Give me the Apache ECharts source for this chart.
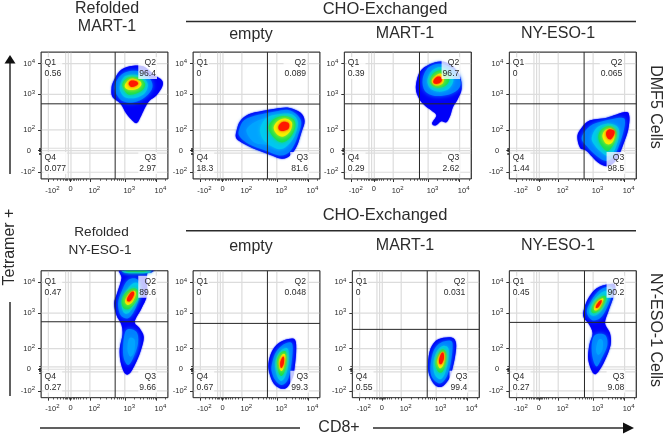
<!DOCTYPE html>
<html>
<head>
<meta charset="utf-8">
<style>
  html, body { margin: 0; padding: 0; background: #fff; }
  #chart { width: 666px; height: 437px; }
</style>
<script src="https://cdn.jsdelivr.net/npm/echarts@6/dist/echarts.min.js"></script>
</head>
<body>
<div id="chart"></div>
<script>
const xTickPos = [5.8, 23.3, 38.5, 66, 90.8];
const yTickPos = [5.3, 22.4, 38.7, 66.6, 90.8];
const xLabelPos = [9, 23.3, 42, 69.5, 94];
const xTickText = ["-10{s|2}", "0", "10{s|2}", "10{s|3}", "10{s|4}"];
const yTickText = ["-10{s|2}", "0\u00a0\u00a0", "10{s|2}", "10{s|3}", "10{s|4}"];
const xMinorPos = [10, 13, 15.5, 17.5, 19, 20, 21, 22, 23, 24, 25, 26, 27.5, 29, 31, 33.5, 36, 46.8, 51.6, 55, 57.6, 59.8, 61.6, 63.2, 64.6, 73.5, 77.8, 80.9, 83.3, 85.3, 87, 88.4, 89.7, 98];
const yMinorPos = [19.5, 20.5, 21.5, 22.5, 23.5, 24.5];
const xGridPos = [5.8, 19.4, 21.5, 23.6, 38.5, 66, 90.8];
const yGridPos = [5.3, 20.3, 22.4, 24.2, 38.7, 66.6, 90.8];

const panelLeft = [41, 193, 344.3, 509.3, 41, 193, 352.3, 509.3];
const panelTop = [52, 52, 52, 52, 270.7, 270.7, 270.7, 270.7];
const gateX = [58.4, 58.6, 59.2, 58.9, 58.4, 58.6, 59, 59.2];
const gateY = [59.2, 59, 59.2, 59.2, 59.8, 58.5, 53.8, 59.3];

const panelQ = [
  ["0.56", "96.4", "2.97", "0.077"],
  ["0", "0.089", "81.6", "18.3"],
  ["0.39", "96.7", "2.62", "0.29"],
  ["0", "0.065", "98.5", "1.44"],
  ["0.47", "89.6", "9.66", "0.27"],
  ["0", "0.048", "99.3", "0.67"],
  ["0", "0.031", "99.4", "0.55"],
  ["0.45", "90.2", "9.08", "0.27"]
];

const levelColors = ["#0000f8", "#0080ff", "#00c8f0", "#18e050", "#f6f000", "#ff1800", "#00a4ff"];
const levelBlur = [1.5, 5, 4, 4, 4, 3, 6];

// density outlines per panel, outer to inner, in axis units
const refoldedMart = [
  [[56.8,76.3],[62,85],[69.9,88.7],[80.4,88.7],[89.5,81.6],[95.3,77.6],[95.5,72.9],[90.8,65.8],[85.6,61.8],[82.2,56.6],[79,50],[75.7,44.2],[72.5,45.5],[67.3,51.3],[62.6,59.2],[56.3,64.5],[55.5,71]],
  [[58,72],[62,81],[70,85],[80,84],[87,77],[87,70],[80,63],[70,60],[62,63]],
  [[62,73],[65,80],[71,82],[79,81],[84,75],[82,68],[75,64],[67,64],[63,68]],
  [[64,74],[67,79],[72,80.5],[78,79],[82,75],[80,70],[74,67],[68,67]],
  [[66,74],[69,78],[73,79],[78,77],[79,74],[76,71],[71,70],[67,71]],
  [[69,75],[71,77.5],[75,77],[76.5,75],[74,73],[71,72.5]]
];
const exchEmptyDmf = [
  [[34.6,39.2],[37.2,45.7],[43.8,51],[54.3,53.6],[64.8,55.4],[75.3,56.2],[84.5,52.3],[87.9,45.7],[85.3,36.5],[81.8,26],[76.6,18.7],[70,16],[59.5,19.5],[49,23.4],[38.5,28.6],[33.8,32.6]],
  [[36.5,39.2],[40.5,46.5],[51.6,50.5],[64.8,53.2],[76.6,54],[85,46],[82.5,33.9],[77,22.5],[69,18.5],[56.9,22.5],[43.8,27.6],[36.5,33.9]],
  [[42,38],[48,44.5],[58,48],[70,48],[70,26],[58,27],[48,29]],
  [[53,40.5],[58.2,48.3],[67.4,51],[77.9,51],[82.6,44.4],[80,33.9],[74,26],[67.4,23.4],[59.5,27.3],[54.3,32.6]],
  [[59.5,40.5],[63.5,47],[71.3,49.7],[79.2,47],[80.5,40.5],[76.6,32.6],[70,28.7],[63.5,32.6]],
  [[63.5,40.5],[66.9,45.7],[72.7,47.6],[77.9,44.4],[76.6,37.8],[71.3,33.4],[66.1,35.2]],
  [[67.4,41.8],[70.6,44.9],[75.3,43.9],[75.3,39.7],[71.3,37.8],[67.9,38.6]]
];
const exchEmptyDmfLevels = [0, 1, 6, 2, 3, 4, 5];
const exchMartDmf = [
  [[56.3,71.8],[59.4,84.2],[67.3,90.3],[76.4,92.6],[84.3,89.5],[90.8,81.6],[92.4,71],[89.5,63.2],[85.6,56.6],[83.5,50],[80.4,44.7],[76.4,45.5],[72,42.1],[69.1,43.9],[72.5,50],[68.6,53.9],[63.4,57.9],[58.9,63.2]],
  [[61.7,78.5],[66.2,87.7],[75.4,90.8],[85.9,86.4],[91.1,78.5],[90.6,71.9],[83.2,66.7],[71.4,65.4],[63.5,69.3]],
  [[65.4,77.7],[68.8,85],[75.9,88.2],[83.2,84.5],[85.9,77.7],[81.9,70.6],[74,68.8],[67.5,71.4]],
  [[67.5,77.7],[70.1,83],[75.9,85.6],[81.1,82.4],[82.7,77.7],[79.3,73.2],[73.2,71.9],[68.8,74]],
  [[68.8,77.2],[71.4,81],[75.9,83],[78.5,78.5],[76.7,74.6],[71.4,73.8]],
  [[70.1,77.2],[72.7,80.3],[75.9,80.3],[76.7,77.2],[74,75.1],[70.9,75.1]]
];
const exchNyDmf = [
  [[53.6,33.8],[57,40.4],[63.6,46.2],[76.7,48.3],[91.1,52.7],[94.5,49.6],[93.7,39.1],[89.8,27.3],[84.6,15.5],[78,10.2],[70.1,12.8],[60.9,22],[55.7,24.6]],
  [[57,32.5],[63.6,41.7],[74.1,45.7],[88.5,48.3],[91.1,44.3],[88.5,32.5],[83.2,19.4],[76.7,14.2],[68.8,18.1],[60.9,26]],
  [[64.9,32.5],[68.8,40.4],[76.7,43.6],[84.6,41.7],[86.6,35.2],[83.2,23.3],[78,18.1],[71.4,22],[66.7,27.3]],
  [[70.1,32.5],[72,38.3],[78,41.7],[83.2,39.1],[84.6,33.8],[81.4,26],[77.2,22],[72.7,26]],
  [[73.3,33.8],[75.4,38.3],[79.8,39.9],[83.2,36.5],[81.9,29.9],[78.8,27.3],[75.4,28.6]],
  [[76.2,36.5],[78.8,39.1],[82.7,37.8],[82.4,34.6],[79.8,31.2],[77.2,32.5]]
];
const refoldedNy = [
  [[62.6,101.8],[87.7,101.8],[87.2,98.7],[83.5,97.1],[83.5,80.8],[79.1,70.3],[73.8,59.8],[77.7,54.6],[80.9,48],[79.1,38.8],[75.1,28.3],[69.9,19.2],[66,19.2],[62.6,28.3],[62,38.8],[64.1,49.3],[63.4,57.2],[59.4,65.1],[57.6,74.3],[59.9,82.2],[63.4,94]],
  [[67.3,53.3],[75.1,52],[76.4,42.8],[72.5,31],[68.6,25.7],[65.2,31],[64.7,41.5]],
  [[60.7,74.3],[63.4,83.5],[68.6,92.7],[76.4,92.7],[77.7,80.8],[73.8,69],[68.6,62.5],[62.6,65.1]],
  [[69.4,46.7],[73.8,45.4],[73.3,36.2],[70.4,32.3],[68.1,37.5]],
  [[65.2,102],[85.6,102],[84.3,98.4],[66,98.4]],
  [[63.4,75.1],[66,82.2],[71.2,89.2],[76.4,90],[77.2,80.8],[73.8,73],[68.6,66.4],[64.7,67.7]],
  [[67.3,102],[83.5,102],[81.9,99.4],[67.8,99.4]],
  [[63.5,75.6],[66.1,82.2],[72.7,86.1],[76.6,83.5],[75.3,76.9],[70,70.3],[65.3,70.3]],
  [[66.1,76.4],[69.5,82.2],[73.2,84.3],[74.8,81.6],[72.2,75.6],[68.2,73]],
  [[67.9,78.2],[70.6,82.7],[72.9,83.5],[73.2,80.8],[70.6,76.4],[68.2,75.9]]
];
const refoldedNyLevels = [0, 1, 1, 6, 2, 2, 3, 3, 4, 5];
const exchEmptyNy = [
  [[59.4,27],[62,36.2],[67.3,42.8],[75.1,46.2],[80.4,45.4],[81.2,36.2],[79.6,20.5],[77.7,13.9],[73.8,7.9],[68.6,7.3],[63.4,11.3],[60.2,19.2]],
  [[62,25.7],[64.7,34.9],[69.9,41],[76.4,43.6],[78.5,40.2],[77.7,28.3],[75.1,15.2],[69.9,10],[64.7,13.9],[62,20.5]],
  [[64.7,27],[67.3,34.9],[71.7,38.8],[75.1,37.5],[75.1,25.7],[72.5,16.5],[69.1,13.1],[66,17.8]],
  [[66,28.3],[68.6,34.9],[72.5,36.7],[73.8,32.3],[73.3,24.4],[70.7,17.8],[68,18.4]],
  [[67.6,28.3],[69.9,33.6],[72.5,34.1],[72.5,28.3],[70.7,21.8],[68.6,21.8]],
  [[68.8,28.3],[70.7,32.3],[71.7,31.5],[71.5,27],[69.9,23.6],[68.8,24.4]]
];
const exchMartNy = [
  [[59.6,27],[61.7,38.9],[67.7,46],[78.2,47.5],[81.7,42.8],[80.9,32.3],[78.2,20.5],[75.6,14],[70.4,8.7],[65.1,10],[60.6,17.9]],
  [[61.7,27],[64.3,37.5],[69.6,43.3],[77.4,44.9],[79,40.2],[77.4,27],[74.3,16.5],[69.6,11.3],[64.3,14],[61.7,19.2]],
  [[63.8,27],[66.4,36.2],[71.1,40.7],[75.6,38.9],[75.6,29.7],[73,19.2],[69.6,14.5],[65.1,17.9]],
  [[65.4,27],[67.7,34.4],[71.1,38.1],[73.8,35.5],[73.8,28.4],[71.1,20.5],[67.7,20.5]],
  [[66.9,28.4],[69,34.4],[71.7,36.2],[73,32.3],[71.7,25.7],[69,23.1]],
  [[68.3,29.7],[69.8,34.4],[71.7,35.5],[72.2,31],[70.6,27],[68.8,26.5]]
];
const exchNyNy = [
  [[58.3,67.8],[62.2,78.3],[68.8,86.2],[78,89.3],[83.2,88.8],[82.5,80.9],[78,67.8],[75.4,58.6],[79.3,50.7],[79.8,41.5],[75.4,29.7],[70.1,20.5],[66.2,19.2],[62.2,29.7],[63,41.5],[65.6,50.7],[62.2,58.6],[58.8,62.5]],
  [[61,67.8],[64.9,77],[71.4,84.9],[79.3,87.5],[81.4,83.5],[76.7,70.4],[71.4,62.5],[64.9,61.2]],
  [[67.5,49.4],[75.4,49.4],[77.2,41.5],[72.7,31],[68.8,24.5],[65.7,31],[64.9,41.5]],
  [[70.1,45.5],[73.5,45],[73.3,37.6],[70.1,33.7],[68.3,37.6]],
  [[63,69.6],[66.7,77],[72.7,82.8],[78,84.3],[78.8,80.9],[74,70.4],[68.8,65.2],[64.1,65.2]],
  [[64.9,70.4],[68.3,76.4],[74,80.1],[76.2,78.3],[72.7,70.4],[68.3,67],[65.1,67]],
  [[66.7,71.2],[69.3,75.7],[73.3,78.3],[74,76.5],[70.9,70.4],[67.5,68.6]],
  [[68.3,72.3],[70.6,75.7],[72.5,77],[72.5,74.9],[70.1,71.2],[68.3,70.7]]
];
const exchNyNyLevels = [0, 1, 1, 6, 2, 3, 4, 5];
const defaultLevels = [0, 1, 2, 3, 4, 5];

const panelContours = [refoldedMart, exchEmptyDmf, exchMartDmf, exchNyDmf, refoldedNy, exchEmptyNy, exchMartNy, exchNyNy];
const panelLevels = [defaultLevels, exchEmptyDmfLevels, defaultLevels, defaultLevels, refoldedNyLevels, defaultLevels, defaultLevels, exchNyNyLevels];

const FONT = '"Liberation Sans", Arial, sans-serif';
const INK = "#2b2b2b";
const SIZE = 127;

function labelOf(positions, texts) {
  return function (v) {
    const i = positions.indexOf(v);
    return i < 0 ? "" : texts[i];
  };
}

// closed curve through the outline points
function closedCurve(pts) {
  const n = pts.length;
  let d = "M" + pts[0][0] + " " + pts[0][1];
  for (let i = 0; i < n; i++) {
    const p0 = pts[(i - 1 + n) % n], p1 = pts[i], p2 = pts[(i + 1) % n], p3 = pts[(i + 2) % n];
    d += "C" + (p1[0] + (p2[0] - p0[0]) / 6) + " " + (p1[1] + (p2[1] - p0[1]) / 6) +
      " " + (p2[0] - (p3[0] - p1[0]) / 6) + " " + (p2[1] - (p3[1] - p1[1]) / 6) +
      " " + p2[0] + " " + p2[1];
  }
  return d + "Z";
}

function quadLabel(x, y, name, value, align) {
  return {
    type: "text",
    x: x,
    y: y,
    style: {
      text: name + "\n" + value,
      font: "8.6px " + FONT,
      lineHeight: 11,
      fill: INK,
      align: align,
      verticalAlign: "top",
      backgroundColor: "rgba(255,255,255,0.76)",
      padding: [0, 1, 0, 1]
    }
  };
}

function panelRender(idx) {
  return function (params, api) {
    const children = [];
    const addLine = (a, b, stroke, lineWidth) => {
      const p = api.coord(a), q = api.coord(b);
      children.push({
        type: "line",
        shape: { x1: p[0], y1: p[1], x2: q[0], y2: q[1] },
        style: { stroke: stroke, lineWidth: lineWidth, fill: null }
      });
    };
    xGridPos.forEach(v => addLine([v, 0], [v, 100], "#dcdcdc", 1.2));
    yGridPos.forEach(v => addLine([0, v], [100, v], "#dcdcdc", 1.2));

    panelContours[idx].forEach((outline, i) => {
      const level = panelLevels[idx][i];
      const color = levelColors[level];
      children.push({
        type: "path",
        shape: { pathData: closedCurve(outline.map(pt => api.coord(pt))) },
        style: { fill: color, shadowBlur: levelBlur[level], shadowColor: color }
      });
    });

    addLine([gateX[idx], 0], [gateX[idx], 100], "#262626", 1);
    addLine([0, gateY[idx]], [100, gateY[idx]], "#262626", 1);

    const topLeft = api.coord([0, 100]);
    const bottomRight = api.coord([100, 0]);
    const q = panelQ[idx];
    const rightOff = t => (t.length > 4 ? 13 : 11);
    children.push(quadLabel(topLeft[0] + 2.5, topLeft[1] + 5, "Q1", q[0], "left"));
    children.push(quadLabel(bottomRight[0] - rightOff(q[1]), topLeft[1] + 5, "Q2", q[1], "right"));
    children.push(quadLabel(bottomRight[0] - rightOff(q[2]), topLeft[1] + 100, "Q3", q[2], "right"));
    children.push(quadLabel(topLeft[0] + 2.5, topLeft[1] + 100, "Q4", q[3], "left"));

    children.push({
      type: "rect",
      shape: { x: topLeft[0], y: topLeft[1], width: bottomRight[0] - topLeft[0], height: bottomRight[1] - topLeft[1] },
      style: { fill: null, stroke: "#3a3a3a", lineWidth: 1 }
    });
    return { type: "group", children: children };
  };
}

const grids = [], xAxes = [], yAxes = [], series = [];
panelLeft.forEach((left, i) => {
  grids.push({ left: left, top: panelTop[i], width: SIZE, height: SIZE, show: true, borderColor: "#3a3a3a", borderWidth: 1, backgroundColor: "#fff" });
  const labelStyle = {
    fontSize: 7.5,
    color: INK,
    fontFamily: FONT,
    hideOverlap: false,
    showMinLabel: true,
    showMaxLabel: true,
    rich: { s: { fontSize: 6, fontFamily: FONT, color: INK, padding: [0, 0, 5, 0] } }
  };
  const base = { gridIndex: i, type: "value", min: 0, max: 100, axisLine: { show: false }, splitLine: { show: false }, silent: true };
  xAxes.push(Object.assign({}, base, {
    position: "bottom",
    axisTick: { show: true, customValues: xTickPos, length: 3, lineStyle: { color: "#333", width: 1 } },
    axisLabel: Object.assign({}, labelStyle, { customValues: xLabelPos, margin: 6, formatter: labelOf(xLabelPos, xTickText) })
  }));
  yAxes.push(Object.assign({}, base, {
    position: "left",
    axisTick: { show: true, customValues: yTickPos, length: 3, lineStyle: { color: "#333", width: 1 } },
    axisLabel: Object.assign({}, labelStyle, { customValues: yTickPos, margin: 6, formatter: labelOf(yTickPos, yTickText) })
  }));
  series.push({
    type: "custom",
    xAxisIndex: i,
    yAxisIndex: i,
    clip: true,
    silent: true,
    animation: false,
    data: [[0, 0]],
    renderItem: panelRender(i)
  });
});
// second set of axes only carries the short minor ticks
panelLeft.forEach((left, i) => {
  const base = { gridIndex: i, type: "value", min: 0, max: 100, axisLine: { show: false }, splitLine: { show: false }, axisLabel: { show: false }, silent: true };
  xAxes.push(Object.assign({}, base, { position: "bottom", axisTick: { show: true, customValues: xMinorPos, length: 1.8, lineStyle: { color: "#333", width: 0.8 } } }));
  yAxes.push(Object.assign({}, base, { position: "left", axisTick: { show: true, customValues: yMinorPos, length: 2, lineStyle: { color: "#222", width: 0.8 } } }));
});

function title(text, x, y, size, rotation) {
  return {
    type: "text",
    x: x,
    y: y,
    rotation: rotation || 0,
    style: { text: text, font: size + "px " + FONT, fill: INK, align: "center", verticalAlign: "middle" }
  };
}
function rule(x1, y1, x2, y2, width) {
  return { type: "line", shape: { x1: x1, y1: y1, x2: x2, y2: y2 }, style: { stroke: "#2b2b2b", lineWidth: width } };
}

const graphics = [
  title("Refolded", 107, 9, 16),
  title("MART-1", 107, 27, 16),
  title("CHO-Exchanged", 385, 9, 16.5),
  rule(186, 21.5, 636, 21.5, 1.5),
  title("empty", 251, 35, 16),
  title("MART-1", 405, 34, 16),
  title("NY-ESO-1", 558, 34, 16),
  title("Refolded", 101.5, 232, 13.6),
  title("NY-ESO-1", 100, 250, 13.6),
  title("CHO-Exchanged", 385, 215, 16.5),
  rule(186, 230.7, 636, 230.7, 1.5),
  title("empty", 251, 247, 16),
  title("MART-1", 405, 246, 16),
  title("NY-ESO-1", 558, 246, 16),
  title("DMF5 Cells", 655, 107, 16, -Math.PI / 2),
  title("NY-ESO-1 Cells", 655, 330, 16, -Math.PI / 2),
  title("Tetramer +", 10, 247, 16, Math.PI / 2),
  title("CD8+", 339, 428, 16),
  rule(10, 62, 10, 174, 1.5),
  { type: "polygon", shape: { points: [[10, 55], [15.5, 63.5], [4.5, 63.5]] }, style: { fill: "#111" } },
  rule(10, 302, 10, 396, 1.5),
  rule(40, 428, 300, 428, 1.5),
  rule(373, 428, 624, 428, 1.5),
  { type: "polygon", shape: { points: [[634, 428], [623, 422.5], [623, 433.5]] }, style: { fill: "#111" } }
];

const chart = echarts.init(document.getElementById("chart"), null, { renderer: "canvas" });
chart.setOption({
  backgroundColor: "#fff",
  animation: false,
  grid: grids,
  xAxis: xAxes,
  yAxis: yAxes,
  series: series,
  graphic: { elements: graphics }
});
</script>
</body>
</html>
